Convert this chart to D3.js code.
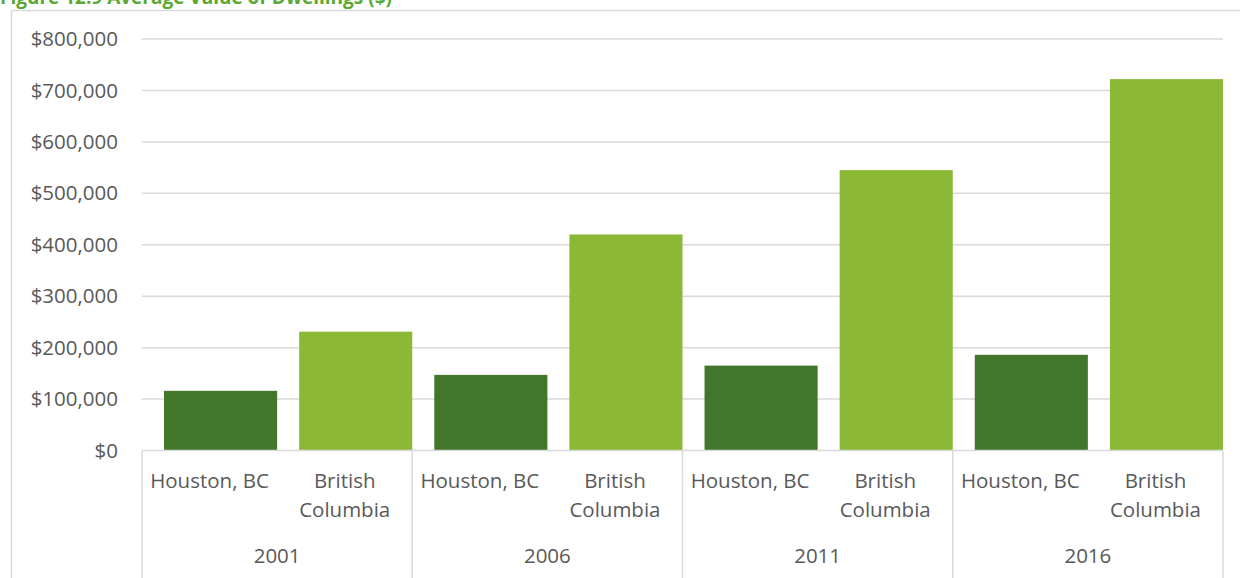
<!DOCTYPE html>
<html>
<head>
<meta charset="utf-8">
<script src="https://cdn.jsdelivr.net/npm/d3@7"></script>
<style>
  body { margin: 0; background: #fff; }
  text { font-family: "Open Sans", sans-serif; }
</style>
</head>
<body>
<div id="chart"></div>
<script>
var years = ["2001", "2006", "2011", "2016"];
var places = ["Houston, BC", "British Columbia"];
var houstonValues = [116000, 147000, 165000, 186000];
var bcValues = [231000, 420000, 545000, 722000];
var yTicks = [0, 100000, 200000, 300000, 400000, 500000, 600000, 700000, 800000];
var title = "Figure 12.9 Average Value of Dwellings ($)";

var width = 1240,
    height = 578,
    margin = { left: 142, right: 17, top: 39, bottom: 128 },
    colors = ["#41762b", "#8bb835"],
    gridColor = "#d9d9d9",
    textColor = "#595959",
    fontSize = "20.5px";

var svg = d3.select("#chart").append("svg")
    .attr("width", width)
    .attr("height", height);

// outer chart border
svg.append("rect")
    .attr("x", 11.5).attr("y", 10.5)
    .attr("width", width + 10).attr("height", height + 10)
    .attr("fill", "none")
    .attr("stroke", gridColor)
    .attr("stroke-width", 1.5);

svg.append("text")
    .attr("x", 0).attr("y", 4)
    .text(title)
    .style("font-size", "19px")
    .style("font-weight", "bold")
    .attr("fill", "#5aa732");

var plotBottom = height - margin.bottom + 0.5;
var x = d3.scaleBand().domain(years).range([margin.left, width - margin.right]);
var inner = d3.scaleBand().domain(places).range([0, x.bandwidth()])
    .paddingInner(0.163).paddingOuter(0.0815).align(1);
var y = d3.scaleLinear().domain([0, 800000]).range([plotBottom, margin.top]);

var data = [];
years.forEach(function(yr, i) {
    data.push({ year: yr, place: places[0], value: houstonValues[i], s: 0 });
    data.push({ year: yr, place: places[1], value: bcValues[i], s: 1 });
});

// gridlines
svg.append("g").selectAll("line").data(yTicks.slice(1)).enter().append("line")
    .attr("x1", margin.left).attr("x2", width - margin.right)
    .attr("y1", function(d) { return y(d); })
    .attr("y2", function(d) { return y(d); })
    .attr("stroke", gridColor).attr("stroke-width", 1.5);

// y labels
var fmt = d3.format(",");
svg.append("g").selectAll("text").data(yTicks).enter().append("text")
    .attr("x", 118)
    .attr("y", function(d) { return y(d); })
    .attr("dy", "0.35em")
    .attr("text-anchor", "end")
    .attr("fill", textColor)
    .style("font-size", fontSize)
    .text(function(d) { return "$" + fmt(d); });

// bars
svg.append("g").selectAll("rect").data(data).enter().append("rect")
    .attr("x", function(d) { return x(d.year) + inner(d.place); })
    .attr("width", inner.bandwidth())
    .attr("y", function(d) { return y(d.value); })
    .attr("height", function(d) { return plotBottom - y(d.value); })
    .attr("fill", function(d) { return colors[d.s]; });

// category axis
svg.append("line")
    .attr("x1", margin.left).attr("x2", width - margin.right)
    .attr("y1", plotBottom).attr("y2", plotBottom)
    .attr("stroke", gridColor).attr("stroke-width", 1.5);

var bounds = years.map(function(d) { return x(d); }).concat([width - margin.right]);
svg.append("g").selectAll("line").data(bounds).enter().append("line")
    .attr("x1", function(d) { return d; }).attr("x2", function(d) { return d; })
    .attr("y1", plotBottom).attr("y2", height + 5)
    .attr("stroke", gridColor).attr("stroke-width", 1.5);

var half = x.bandwidth() / 2;
var lab = svg.append("g").selectAll("text").data(data).enter().append("text")
    .attr("x", function(d) { return x(d.year) + half * (d.s + 0.5); })
    .attr("y", 488)
    .attr("text-anchor", "middle")
    .attr("fill", textColor)
    .style("font-size", fontSize);
lab.each(function(d) {
    var el = d3.select(this);
    var words = d.s === 0 ? [d.place] : ["British", "Columbia"];
    words.forEach(function(w, i) {
        el.append("tspan")
            .attr("x", x(d.year) + half * (d.s + 0.5))
            .attr("dy", i === 0 ? 0 : 29)
            .text(w);
    });
});

svg.append("g").selectAll("text").data(years).enter().append("text")
    .attr("x", function(d) { return x(d) + half; })
    .attr("y", 563)
    .attr("text-anchor", "middle")
    .attr("fill", textColor)
    .style("font-size", fontSize)
    .text(function(d) { return d; });
</script>
</body>
</html>
